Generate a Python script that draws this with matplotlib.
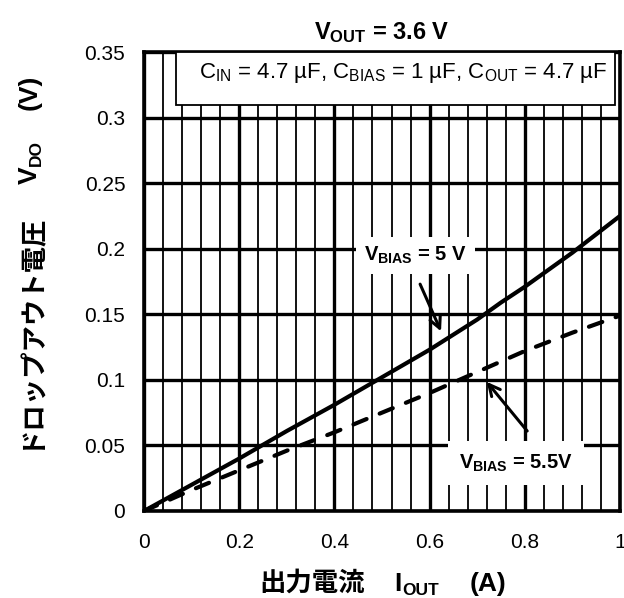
import matplotlib
matplotlib.use("Agg")
import matplotlib.pyplot as plt
from matplotlib.ticker import MultipleLocator
from matplotlib.patches import Rectangle

plt.rcParams['mathtext.fontset'] = 'custom'
plt.rcParams['mathtext.rm'] = 'Liberation Sans'
plt.rcParams['mathtext.bf'] = 'Liberation Sans:bold'
plt.rcParams['mathtext.it'] = 'Liberation Sans:italic'
plt.rcParams['font.family'] = ['Liberation Sans', 'Noto Sans CJK JP', 'DejaVu Sans']

# Dropout voltage vs output current
iout_5v = [0.0, 0.1, 0.2, 0.3, 0.4, 0.5, 0.6, 0.7, 0.75, 0.8, 0.9, 1.0]
vdo_5v = [0.0, 0.020, 0.040, 0.061, 0.081, 0.102, 0.123, 0.146, 0.159, 0.171, 0.197, 0.225]

iout_55v = [0.0, 0.1, 0.2, 0.3, 0.4, 0.5, 0.6, 0.65, 0.7, 0.8, 0.9, 1.0]
vdo_55v = [0.0, 0.016, 0.031, 0.046, 0.060, 0.075, 0.090, 0.098, 0.106, 0.122, 0.136, 0.149]

x_ticks = [0, 0.2, 0.4, 0.6, 0.8, 1]
x_tick_labels = ['0', '0.2', '0.4', '0.6', '0.8', '1']
y_ticks = [0, 0.05, 0.1, 0.15, 0.2, 0.25, 0.3, 0.35]
y_tick_labels = ['0', '0.05', '0.1', '0.15', '0.2', '0.25', '0.3', '0.35']

x_label_parts = ['出力電流', 'I', 'OUT', '(A)']
y_label_parts = ['ドロップアウト電圧', 'V', 'DO', '(V)']

fig = plt.figure(figsize=(6.24, 5.98), dpi=100)
ax = fig.add_axes([0.2308, 0.1455, 0.7628, 0.7675])

ax.set_xlim(0, 1)
ax.set_ylim(0, 0.35)
ax.set_xticks(x_ticks)
ax.set_xticklabels(x_tick_labels)
ax.set_yticks(y_ticks)
ax.set_yticklabels(y_tick_labels)
ax.xaxis.set_minor_locator(MultipleLocator(0.04))
ax.tick_params(which='both', length=0, labelsize=15)
ax.tick_params(axis='x', pad=16)
ax.tick_params(axis='y', pad=13.5)

ax.grid(which='major', axis='x', color='black', linewidth=2.4)
ax.grid(which='minor', axis='x', color='black', linewidth=1.3)
ax.grid(which='major', axis='y', color='black', linewidth=2.4)
for s in ax.spines.values():
    s.set_linewidth(2.6)
ax.set_axisbelow(True)

ax.plot(iout_5v, vdo_5v, color='black', linewidth=3.0, zorder=3,
        solid_capstyle='round')
ax.plot(iout_55v, vdo_55v, color='black', linewidth=3.0, linestyle=(0, (3.4, 3.4)),
        dash_capstyle='round', zorder=3)

# Capacitor conditions box
ax.add_patch(Rectangle((0.067, 0.3094), 0.922, 0.0406, transform=ax.transData,
                       facecolor='white', edgecolor='black', linewidth=1.3, zorder=4))
ax.text(0.544, 0.3338,
        r'$\mathrm{C_{IN}}$ = 4.7 µF, $\mathrm{C_{BIAS}}$ = 1 µF, $\mathrm{C_{OUT}}$ = 4.7 µF',
        ha='center', va='center', fontsize=16, zorder=5)

# Curve labels with arrows
ax.text(0.571, 0.195, r'$\mathbf{V_{BIAS}}$ = 5 V', ha='center', va='center',
        fontsize=14.5, fontweight='bold', zorder=5,
        bbox=dict(boxstyle='square,pad=0.4', facecolor='white', edgecolor='none'))
ax.annotate('', xy=(0.624, 0.137), xytext=(0.58, 0.173), zorder=5,
            arrowprops=dict(arrowstyle='->', color='black', lw=2.2,
                            shrinkA=0, shrinkB=0, mutation_scale=20))
ax.text(0.781, 0.0365, r'$\mathbf{V_{BIAS}}$ = 5.5V', ha='center', va='center',
        fontsize=14.5, fontweight='bold', zorder=5,
        bbox=dict(boxstyle='square,pad=0.55', facecolor='white', edgecolor='none'))
ax.annotate('', xy=(0.72, 0.0985), xytext=(0.805, 0.061), zorder=5,
            arrowprops=dict(arrowstyle='->', color='black', lw=2.2,
                            shrinkA=0, shrinkB=0, mutation_scale=20))

ax.set_title(r'$\mathbf{V_{OUT}}$ = 3.6 V', fontsize=17, fontweight='bold', pad=9)


def chained_label(parts, sizes, drops, gaps, anchor, rotation):
    """Lay out text pieces one after another along the reading direction.

    drops: downward baseline shift (pixels) for subscript pieces.
    """
    texts = []
    for p, s in zip(parts, sizes):
        fam = ['Noto Sans CJK JP'] if any(ord(c) > 0x3000 for c in p) else ['Liberation Sans']
        texts.append(fig.text(0, 0, p, fontsize=s, fontweight='bold', rotation=rotation,
                              rotation_mode='anchor', ha='left', va='baseline',
                              family=fam))
    fig.canvas.draw()
    r = fig.canvas.get_renderer()
    ext = [t.get_window_extent(r) for t in texts]
    lengths = [e.height if rotation == 90 else e.width for e in ext]
    total = sum(lengths) + sum(gaps)
    W, H = fig.bbox.width, fig.bbox.height
    if rotation == 90:
        pos = anchor[1] * H - total / 2
        for t, l, g, d in zip(texts, lengths, gaps + [0], drops):
            t.set_position((anchor[0] + d / W, pos / H))
            pos += l + g
    else:
        pos = anchor[0] * W - total / 2
        for t, l, g, d in zip(texts, lengths, gaps + [0], drops):
            t.set_position((pos / W, anchor[1] - d / H))
            pos += l + g


chained_label(x_label_parts, [19, 19, 12.5, 19], [0, 0, 4, 0], [30, 1, 30],
              (0.613, 0.012), 0)
chained_label(y_label_parts, [19, 19, 12.5, 19], [0, 0, 4, 0], [27, 1, 30],
              (0.059, 0.5627), 90)

fig.savefig('out.png', dpi=100)
